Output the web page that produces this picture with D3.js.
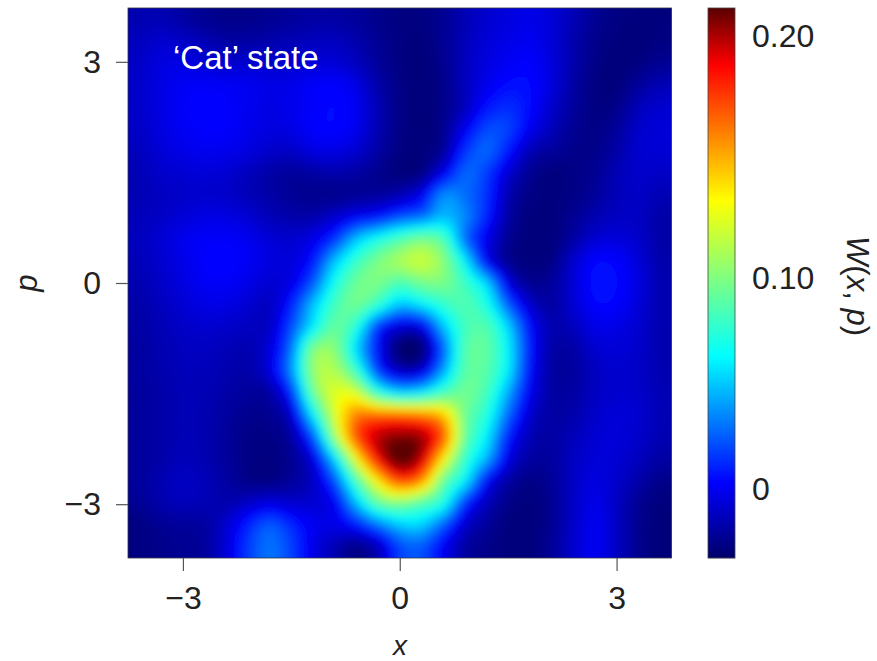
<!DOCTYPE html>
<html><head><meta charset="utf-8">
<script src="https://cdn.jsdelivr.net/npm/d3@7/dist/d3.min.js"></script>
<style>html,body{margin:0;background:#fff}svg{display:block}text{font-family:"Liberation Sans",Arial,sans-serif;fill:#222}</style>
</head><body><svg id="c" width="877" height="661"></svg>
<script>
const xTicks=[-3,0,3], pTicks=[-3,0,3];
const xExtent=[-3.76,3.76], pExtent=[-3.73,3.73];
const barTicks=[0,100,200];
const barTickLabels=["0","0.10","0.20"];
const barDomain=[-32,0,100,200,212];
const colorValues=[-32,3,63,100,132,188,212];
const colorNames=["#00006b","#0000ff","#00ffff","#80ff80","#ffff00","#ff0000","#5a0000"];
// W(x,p) x 1000, read by eye, rows run from top (p high) to bottom, 25 columns
const wRows=[
[-15,-14,-18,-22,-24,-24,-22,-20,-18,-18,-20,-24,-26,-26,-22,-14,-8,-4,-2,-6,-14,-22,-26,-27,-27],
[-12,-8,-10,-14,-18,-18,-16,-14,-12,-12,-16,-22,-26,-27,-22,-13,-6,-2,0,-6,-16,-24,-27,-28,-26],
[-10,-4,-3,-6,-8,-8,-8,-7,-6,-6,-12,-20,-26,-28,-23,-12,-4,1,3,-5,-16,-25,-28,-26,-22],
[-9,-3,1,2,1,0,-3,-2,2,3,-3,-17,-25,-28,-24,-12,-1,6,5,-5,-18,-26,-27,-20,-14],
[-9,-3,2,4,3,0,-3,-1,3,5,0,-14,-25,-28,-24,-12,7,13,5,-9,-20,-26,-24,-13,-8],
[-10,-4,1,3,3,-1,-4,-3,3,4,-1,-15,-25,-28,-23,0,20,18,0,-13,-22,-25,-20,-9,-6],
[-12,-6,-2,0,-1,-4,-9,-10,-4,-3,-8,-18,-26,-27,-20,14,27,8,-14,-20,-24,-24,-17,-8,-7],
[-14,-9,-7,-6,-7,-12,-17,-20,-18,-16,-18,-23,-27,-25,-1,27,17,-7,-22,-27,-25,-22,-14,-9,-10],
[-14,-11,-9,-8,-9,-13,-17,-21,-23,-23,-21,-19,-14,0,36,29,14,-15,-25,-27,-25,-20,-13,-10,-14],
[-13,-10,-6,-3,-3,-7,-13,-16,-16,-8,2,8,22,30,48,35,10,-18,-27,-27,-22,-15,-11,-11,-17],
[-12,-7,-1,2,2,0,-6,-8,-2,15,48,68,84,96,85,30,0,-22,-27,-27,-18,-7,-5,-9,-17],
[-13,-8,-2,3,4,1,-4,-5,8,48,78,98,110,118,102,60,3,-22,-27,-25,-8,4,3,-6,-16],
[-15,-10,-4,1,2,-2,-7,-2,24,68,94,98,85,96,98,80,52,-3,-22,-20,-6,7,5,-4,-15],
[-17,-12,-7,-3,-3,-7,-11,10,48,82,95,75,48,58,76,86,70,25,-8,-18,-7,4,3,-6,-15],
[-18,-14,-10,-8,-9,-11,-10,20,60,92,72,15,-6,-2,48,82,86,52,5,-15,-12,-2,-3,-8,-15],
[-19,-15,-12,-11,-13,-15,-5,30,98,102,55,6,-30,-28,26,86,90,60,8,-17,-17,-8,-6,-9,-15],
[-19,-16,-13,-13,-15,-17,-5,35,104,112,80,18,-10,-5,42,88,88,58,5,-18,-19,-11,-8,-10,-15],
[-20,-17,-14,-14,-17,-20,-18,12,92,124,122,78,56,62,84,96,82,42,0,-18,-18,-11,-8,-9,-14],
[-20,-17,-14,-15,-19,-23,-22,-8,60,122,160,165,165,160,145,96,72,27,-8,-18,-16,-9,-6,-8,-14],
[-20,-17,-14,-15,-20,-25,-25,-18,22,105,170,198,206,202,168,94,60,10,-14,-18,-13,-7,-6,-9,-15],
[-20,-17,-13,-15,-20,-25,-26,-22,-3,55,130,186,214,196,135,78,44,-3,-18,-19,-11,-6,-7,-12,-18],
[-20,-15,-11,-13,-18,-24,-25,-20,-10,22,84,136,172,156,94,60,5,-18,-25,-21,-10,-4,-9,-17,-24],
[-22,-16,-13,-14,-16,-10,-4,-8,-7,2,48,90,100,88,70,15,-12,-24,-27,-22,-10,-2,-11,-22,-27],
[-26,-22,-20,-19,-8,10,24,12,0,-2,8,30,50,52,25,-8,-20,-27,-27,-22,-9,0,-11,-23,-28],
[-26,-24,-22,-20,-6,16,30,18,-2,-14,-24,-12,20,24,2,-18,-24,-27,-27,-21,-8,0,-11,-23,-28]
];

const L=128,R=671.5,T=8,B=558, BL=708,BR=735;
const svg=d3.select("#c");
const defs=svg.append("defs");
defs.append("clipPath").attr("id","plot").append("rect").attr("x",L).attr("y",T).attr("width",R-L).attr("height",B-T);
const f=defs.append("filter").attr("id","soft").attr("filterUnits","userSpaceOnUse")
  .attr("x",L-30).attr("y",T-30).attr("width",R-L+60).attr("height",B-T+60);
f.append("feGaussianBlur").attr("stdDeviation",5);

const x=d3.scaleLinear().domain(xExtent).range([L,R]);
const p=d3.scaleLinear().domain(pExtent).range([B,T]);
const color=d3.scaleLinear().domain(colorValues).range(colorNames).clamp(true);
const barY=d3.scaleLinear().domain(barDomain).range([558,489,278,36,8]);

// Display resampling only: a smooth surface through the read cells, as the reference is smooth.
const SS=5;
function smoothLine(a){
  const n=a.length, out=[];
  const at=i=>a[Math.max(0,Math.min(n-1,i))];
  for(let i=0;i<n-1;i++){
    for(let k=0;k<SS;k++){
      const t=k/SS,p0=at(i-1),p1=at(i),p2=at(i+1),p3=at(i+2);
      out.push(0.5*(2*p1+(p2-p0)*t+(2*p0-5*p1+4*p2-p3)*t*t+(3*p1-p0-3*p2+p3)*t*t*t));
    }
  }
  out.push(a[n-1]);
  return out;
}
const padded=[wRows[0],...wRows,wRows[wRows.length-1]].map(r=>[r[0],...r,r[r.length-1]]);
const byRow=padded.map(smoothLine);
const mx=byRow[0].length;
const byCol=d3.range(mx).map(c=>smoothLine(byRow.map(r=>r[c])));
const my=byCol[0].length;
const fine=[];
for(let j=0;j<my;j++)for(let i=0;i<mx;i++)fine.push(byCol[i][j]);

const nx=wRows[0].length, ny=wRows.length;
const cw=(R-L)/nx, ch=(B-T)/ny;
const gx=d3.scaleLinear().domain([0.5,mx-0.5]).range([L-cw/2,R+cw/2]);
const gy=d3.scaleLinear().domain([0.5,my-0.5]).range([T-ch/2,B+ch/2]);
const path=d3.geoPath(d3.geoTransform({point(a,b){this.stream.point(gx(a),gy(b));}}));
const contours=d3.contours().size([mx,my]).smooth(true).thresholds(d3.range(-36,240,1))(fine);

const plot=svg.append("g").attr("clip-path","url(#plot)");
plot.append("rect").attr("x",L).attr("y",T).attr("width",R-L).attr("height",B-T).attr("fill",color(-34));
plot.append("g").attr("filter","url(#soft)").selectAll("path").data(contours).join("path")
  .attr("d",path).attr("fill",d=>color(d.value));
svg.append("rect").attr("x",L).attr("y",T).attr("width",R-L).attr("height",B-T).attr("fill","none").attr("stroke","#334").attr("stroke-width",0.8);

function styleAxis(g){
  g.select(".domain").remove();
  g.selectAll(".tick line").attr("stroke","#555").attr("stroke-width",1.2);
  g.selectAll(".tick text").style("font-family",'"Liberation Sans",Arial,sans-serif').style("font-size","32px").attr("fill","#222");
}
const fmt=d=>d<0?"\u2212"+Math.abs(d):String(d);
svg.append("g").attr("transform",`translate(0,${B})`)
  .call(d3.axisBottom(x).tickValues(xTicks).tickFormat(fmt).tickSize(13).tickPadding(15)).call(styleAxis);
svg.append("g").attr("transform",`translate(${L},0)`)
  .call(d3.axisLeft(p).tickValues(pTicks).tickFormat(fmt).tickSize(12).tickPadding(15)).call(styleAxis);

svg.append("text").attr("x",173).attr("y",69).attr("font-size",33).style("fill","#fff").text("\u2018Cat\u2019 state");
svg.append("text").attr("x",400).attr("y",655).attr("text-anchor","middle").attr("font-size",28).attr("font-style","italic").text("x");
svg.append("text").attr("transform","translate(37,283) rotate(-90)").attr("text-anchor","middle").attr("font-size",31).attr("font-style","italic").text("p");

const rows=d3.range(T,B,1);
svg.append("g").selectAll("rect").data(rows).join("rect")
  .attr("x",BL).attr("y",d=>d).attr("width",BR-BL).attr("height",1.2)
  .attr("fill",d=>color(barY.invert(d+0.5)));
svg.append("rect").attr("x",BL).attr("y",T).attr("width",BR-BL).attr("height",B-T).attr("fill","none").attr("stroke","#444").attr("stroke-width",0.8);
svg.append("g").selectAll("text").data(barTicks).join("text")
  .attr("x",752).attr("y",d=>barY(d)+11).attr("font-size",32).text((d,i)=>barTickLabels[i]);
svg.append("text").attr("transform","translate(847,286) rotate(90)").attr("text-anchor","middle").attr("font-size",31)
  .html('<tspan font-style="italic">W</tspan>(<tspan font-style="italic">x</tspan>, <tspan font-style="italic">p</tspan>)');
</script></body></html>
